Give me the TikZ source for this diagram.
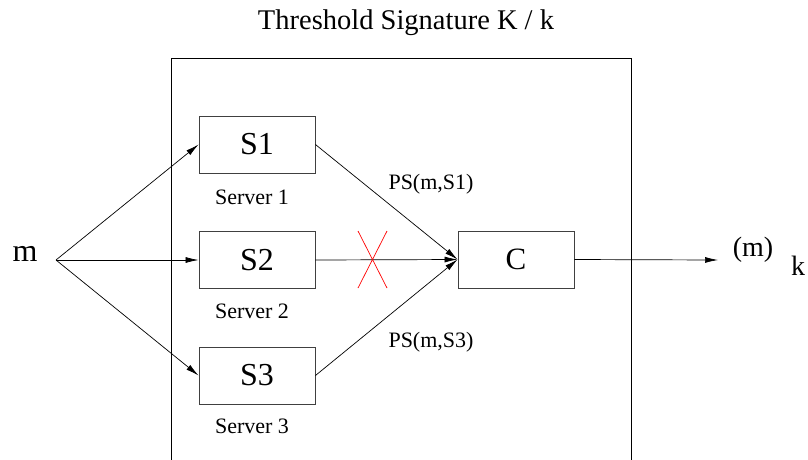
\documentclass[tikz,border=0pt]{standalone}
\usepackage{fontspec}
\setmainfont{Liberation Serif}
\usetikzlibrary{arrows.meta}
\newcommand{\fsz}[1]{\fontsize{#1}{#1}\selectfont}
\begin{document}
\begin{tikzpicture}[x=1pt,y=-1pt,
  box/.style={draw=black!75, line width=0.9pt, minimum width=116pt, minimum height=57pt, inner sep=0pt, font=\fsz{32}},
  lbl/.style={anchor=base, inner sep=0pt, font=\fsz{22}},
  arr/.style={-{Latex[length=13pt,width=6pt]}, line width=0.7pt},
  cross/.style={red, line width=0.7pt}]
\useasboundingbox (0,0) rectangle (808,459);
\begin{scope}
\clip (0,0) rectangle (808,459);
\draw[line width=0.9pt] (171,470) -- (171,58) -- (631,58) -- (631,470);
\end{scope}
\node[anchor=base, inner sep=0pt, font=\fsz{28.5}] (title) at (406,29) {Threshold Signature K / k};
\node[box] (s1) at (257,144.5) {S1};
\node[box] (s2) at (257,260) {S2};
\node[box] (s3) at (257,375.5) {S3};
\node[box, font=\fsz{31}] (c) at (516,259.5) {C};
\node[lbl] (l1) at (252,204) {Server 1};
\node[lbl] (l2) at (252,318) {Server 2};
\node[lbl] (l3) at (252,433) {Server 3};
\node[anchor=base, inner sep=0pt, font=\fsz{32}] (m) at (25,261) {m};
\coordinate (src) at (56,260);
\draw[arr] (src) -- (s1.west);
\draw[arr] (src) -- (s2.west);
\draw[arr] (src) -- (s3.west);
\draw[arr] (s1.east) -- (c.west);
\draw[arr] (s2.east) -- (c.west);
\draw[arr] (s3.east) -- (c.west);
\coordinate (xa) at (358,231);
\coordinate (xb) at (387,288);
\coordinate (xc) at (387,231);
\coordinate (xd) at (358,288);
\draw[cross] (xa) -- (xb);
\draw[cross] (xc) -- (xd);
\node[lbl] (ps1) at (431,189) {PS(m,S1)};
\node[lbl] (ps3) at (431,347) {PS(m,S3)};
\coordinate (out) at (718,260);
\draw[arr] (c.east) -- (out);
\node[anchor=base, inner sep=0pt, font=\fsz{28}] (mk) at (753,256) {(m)};
\node[anchor=base, inner sep=0pt, font=\fsz{28}] (k) at (798,275) {k};
\end{tikzpicture}
\end{document}
